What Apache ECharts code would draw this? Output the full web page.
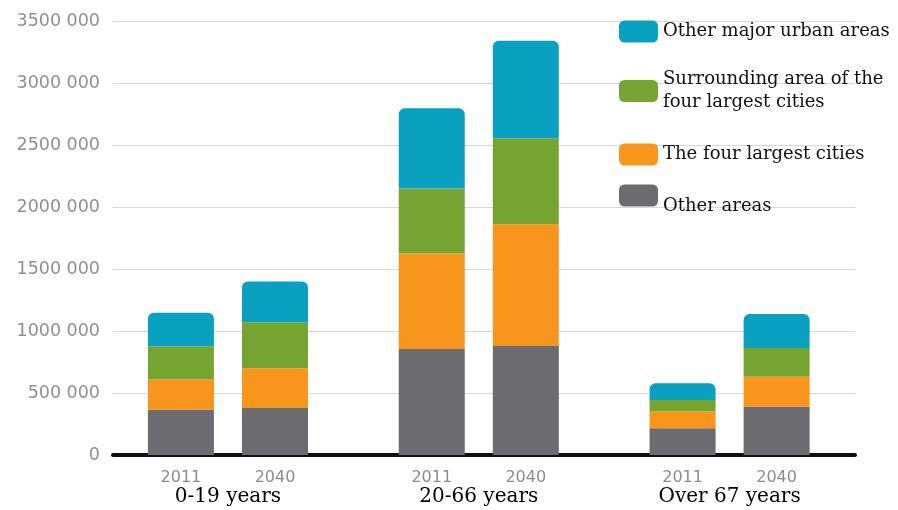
<!DOCTYPE html>
<html>
<head>
<meta charset="utf-8">
<script src="https://cdn.jsdelivr.net/npm/echarts@6/dist/echarts.min.js"></script>
<style>
  html, body { margin: 0; padding: 0; background: #ffffff; }
  #chart { width: 898px; height: 510px; }
</style>
</head>
<body>
<div id="chart"></div>
<script>
// ---- data ----
const yearLabels = ['2011', '2040', '2011', '2040', '2011', '2040'];
const groupLabels = ['0-19 years', '20-66 years', 'Over 67 years'];
const otherAreas = [365000, 380000, 855000, 880000, 215000, 390000];
const fourLargestCities = [245000, 320000, 772000, 980000, 135000, 242000];
const surroundingArea = [267000, 370000, 523000, 694000, 94000, 231000];
const otherMajorUrban = [271000, 330000, 646000, 786000, 134000, 274000];
const yTickValues = [0, 500000, 1000000, 1500000, 2000000, 2500000, 3000000, 3500000];

// ---- layout helpers (slot positions on a fine category axis) ----
const slotCount = 143;
const barSlots = [13, 31, 61, 79, 109, 127];
const groupSlots = [22, 70, 118];

function spread(values, slots) {
  const arr = new Array(slotCount).fill(null);
  slots.forEach((s, i) => { arr[s] = values[i]; });
  return arr;
}
function spreadLabels(labels, slots) {
  const arr = new Array(slotCount).fill('');
  slots.forEach((s, i) => { arr[s] = labels[i]; });
  return arr;
}

const names = {
  blue: 'Other major urban areas',
  green: 'Surrounding area of the\nfour largest cities',
  orange: 'The four largest cities',
  gray: 'Other areas'
};
const colors = { blue: '#0aa0c0', green: '#76a433', orange: '#f7951d', gray: '#6b6c6f' };

const chart = echarts.init(document.getElementById('chart'));

const legendText = { fontFamily: 'DejaVu Serif', fontSize: 18, color: '#111', lineHeight: 23 };
const legendBase = {
  left: 619,
  orient: 'vertical',
  padding: 0,
  itemWidth: 39,
  itemHeight: 22,
  icon: 'roundRect',
  selectedMode: false,
  textStyle: legendText
};

chart.setOption({
  animation: false,
  grid: { left: 113, right: 43, top: 21, bottom: 55, containLabel: false },
  legend: [
    Object.assign({}, legendBase, { top: 20, data: [names.blue] }),
    Object.assign({}, legendBase, { top: 68, data: [names.green] }),
    Object.assign({}, legendBase, { top: 143, data: [names.orange] }),
    Object.assign({}, legendBase, {
      top: 176, data: [names.gray],
      formatter: function (n) { return '{low|' + n + '}'; },
      textStyle: Object.assign({}, legendText, {
        rich: { low: Object.assign({}, legendText, { padding: [21, 0, 0, 0] }) }
      })
    })
  ],
  xAxis: [
    {
      type: 'category',
      boundaryGap: false,
      data: spreadLabels(yearLabels, barSlots),
      axisLine: { show: true, lineStyle: { color: '#111', width: 4 } },
      axisTick: { show: false },
      axisLabel: { interval: 0, margin: 15, color: '#8c8c8c', fontFamily: 'DejaVu Sans', fontSize: 16 },
      splitLine: { show: false }
    },
    {
      type: 'category',
      boundaryGap: false,
      position: 'bottom',
      data: spreadLabels(groupLabels, groupSlots),
      axisLine: { show: false },
      axisTick: { show: false },
      axisLabel: { interval: 0, margin: 32, color: '#000', fontFamily: 'DejaVu Serif', fontSize: 20 },
      splitLine: { show: false }
    }
  ],
  yAxis: {
    type: 'value',
    min: yTickValues[0],
    max: yTickValues[yTickValues.length - 1],
    interval: 500000,
    axisLine: { show: false },
    axisTick: { show: false },
    axisLabel: {
      margin: 13,
      color: '#8f8f8f',
      fontFamily: 'DejaVu Sans',
      fontSize: 17.5,
      formatter: function (v) {
        if (v === 0) return '0';
        return Math.floor(v / 1000) + ' 000';
      }
    },
    splitLine: { show: true, lineStyle: { color: '#d9d9d9', width: 1 } }
  },
  series: [
    { name: names.gray, type: 'bar', stack: 'total', barWidth: 66, xAxisIndex: 0,
      itemStyle: { color: colors.gray }, data: spread(otherAreas, barSlots) },
    { name: names.orange, type: 'bar', stack: 'total', barWidth: 66, xAxisIndex: 0,
      itemStyle: { color: colors.orange }, data: spread(fourLargestCities, barSlots) },
    { name: names.green, type: 'bar', stack: 'total', barWidth: 66, xAxisIndex: 0,
      itemStyle: { color: colors.green }, data: spread(surroundingArea, barSlots) },
    { name: names.blue, type: 'bar', stack: 'total', barWidth: 66, xAxisIndex: 0,
      itemStyle: { color: colors.blue, borderRadius: [6, 6, 0, 0] }, data: spread(otherMajorUrban, barSlots) }
  ]
});
</script>
</body>
</html>
